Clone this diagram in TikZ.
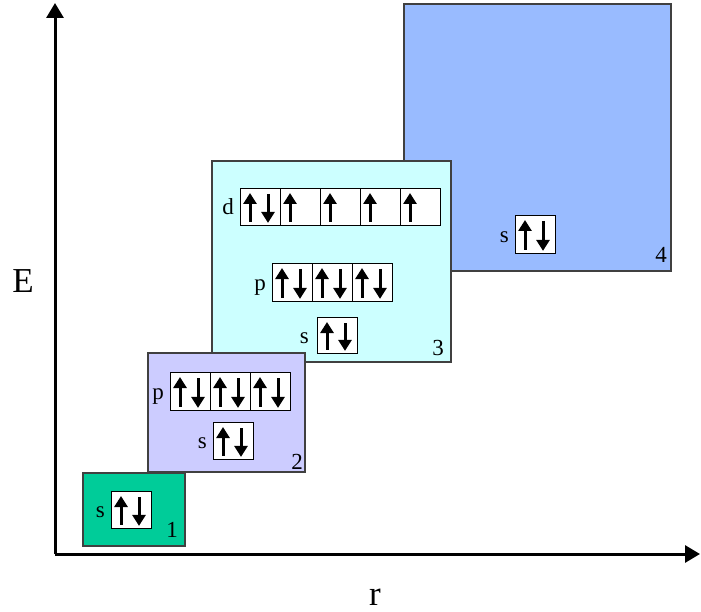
\documentclass[tikz,border=0pt]{standalone}
\usepackage{fontspec}
\setmainfont{Liberation Serif}
\usetikzlibrary{arrows.meta}

\definecolor{shellone}{HTML}{00CC99}
\definecolor{shelltwo}{HTML}{CCCCFF}
\definecolor{shellthree}{HTML}{CCFFFF}
\definecolor{shellfour}{HTML}{99BBFF}
\definecolor{shelledge}{HTML}{404040}

\tikzset{
  shell/.style={draw=shelledge, line width=1.1pt},
  orb/.style={draw=black, fill=white, line width=0.9pt, minimum width=40pt,
    minimum height=37pt, inner sep=0pt, anchor=north west},
  lbl/.style={font=\fontsize{23}{23}\selectfont, anchor=base east, inner sep=0pt},
  bigl/.style={font=\fontsize{35}{35}\selectfont, inner sep=0pt},
  spin/.style={line width=3pt, -{Triangle[length=11pt,width=13pt]}},
  axisline/.style={line width=3pt, -{Triangle[length=15pt,width=17pt]}},
}

% spin arrows inside an orbital cell
\newcommand\spinup[1]{\draw[spin] ([xshift=10pt,yshift=4pt]#1.south west) -- ([xshift=10pt,yshift=-5pt]#1.north west);}
\newcommand\spindown[1]{\draw[spin] ([xshift=28pt,yshift=-6pt]#1.north west) -- ([xshift=28pt,yshift=3pt]#1.south west);}
\newcommand\spinpair[1]{\spinup{#1}\spindown{#1}}

\begin{document}
\begin{tikzpicture}[x=1pt,y=-1pt]
\useasboundingbox (0,0) rectangle (701,612);

% axes
\coordinate (origin) at (55,554);
\coordinate (etop) at (55,3);
\coordinate (rend) at (700,554);
\draw[axisline] (origin) -- (etop);
\draw[axisline] (origin) -- (rend);
\node[bigl] (elabel) at (23,281) {E};
\node[bigl, anchor=base] (rlabel) at (375,605) {r};

% shells
\draw[shell, fill=shellfour] (404,4) rectangle (671,271);
\draw[shell, fill=shellthree] (212,161) rectangle (451,362);
\draw[shell, fill=shelltwo] (148,353) rectangle (305,472);
\draw[shell, fill=shellone] (83,473) rectangle (185,546);

\node[lbl] (n1) at (178,537) {1};
\node[lbl] (n2) at (303,469) {2};
\node[lbl] (n3) at (444,355) {3};
\node[lbl] (n4) at (667,263) {4};

% shell 1
\node[orb] (s1) at (111,491) {};
\spinpair{s1}
\node[lbl] (s1l) at ([xshift=-6pt,yshift=-8pt]s1.west) {s};

% shell 2
\foreach \i in {1,2,3} \node[orb, minimum height=38pt] (p2\i) at ({170+40*(\i-1)},372) {};
\spinpair{p21}\spinpair{p22}\spinpair{p23}
\node[lbl] (p2l) at ([xshift=-6pt,yshift=-8pt]p21.west) {p};
\node[orb] (s2) at (213,422) {};
\spinpair{s2}
\node[lbl] (s2l) at ([xshift=-6pt,yshift=-8pt]s2.west) {s};

% shell 3
\foreach \i in {1,...,5} \node[orb] (d3\i) at ({240+40*(\i-1)},188) {};
\spinpair{d31}\spinup{d32}\spinup{d33}\spinup{d34}\spinup{d35}
\node[lbl] (d3l) at ([xshift=-6pt,yshift=-8pt]d31.west) {d};
\foreach \i in {1,2,3} \node[orb, minimum height=38pt] (p3\i) at ({272+40*(\i-1)},263) {};
\spinpair{p31}\spinpair{p32}\spinpair{p33}
\node[lbl] (p3l) at ([xshift=-6pt,yshift=-8pt]p31.west) {p};
\node[orb, minimum height=36pt] (s3) at (317,317) {};
\spinpair{s3}
\node[lbl] (s3l) at ([xshift=-8pt,yshift=-8pt]s3.west) {s};

% shell 4
\node[orb, minimum height=38pt] (s4) at (515,215) {};
\spinpair{s4}
\node[lbl] (s4l) at ([xshift=-6pt,yshift=-8pt]s4.west) {s};
\end{tikzpicture}
\end{document}
